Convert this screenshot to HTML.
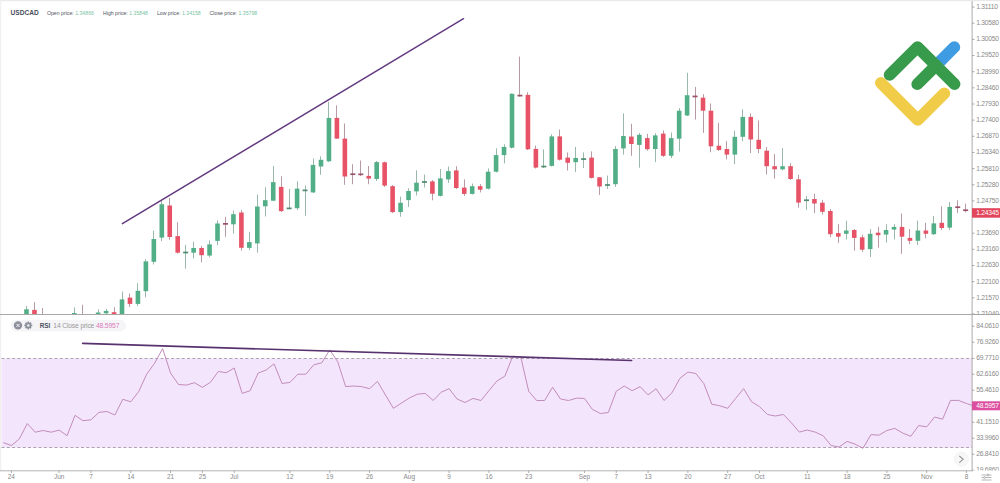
<!DOCTYPE html>
<html><head><meta charset="utf-8"><style>
html,body{margin:0;padding:0;background:#fff;width:1000px;height:483px;overflow:hidden}
svg{display:block;font-family:"Liberation Sans",sans-serif}
</style></head><body>
<svg width="1000" height="483" viewBox="0 0 1000 483">
<defs>
<clipPath id="cp"><rect x="1" y="1" width="971" height="313.4"/></clipPath>
<clipPath id="ca1"><rect x="972" y="0" width="28" height="314.4"/></clipPath>
<clipPath id="ca2"><rect x="972" y="314.9" width="28" height="155.6"/></clipPath>
<clipPath id="cr"><rect x="1" y="314.9" width="971" height="155.5"/></clipPath>
</defs>
<rect x="0" y="0" width="1000" height="483" fill="#fff"/>
<rect x="0" y="0" width="1000" height="1.2" fill="#e9e9e9"/>
<rect x="0" y="0" width="1.2" height="471" fill="#f0f0f0"/>
<!-- RSI band -->
<rect x="1.5" y="358.5" width="970.5" height="89" fill="#f3e5fc"/>
<g clip-path="url(#cp)">
<line x1="10.50" y1="315.00" x2="10.50" y2="322.00" stroke="#9ab8a9" stroke-width="1"/>
<line x1="18.50" y1="315.00" x2="18.50" y2="322.00" stroke="#b89aa4" stroke-width="1"/>
<line x1="26.50" y1="306.00" x2="26.50" y2="318.00" stroke="#9ab8a9" stroke-width="1"/>
<line x1="34.50" y1="302.10" x2="34.50" y2="318.00" stroke="#b89aa4" stroke-width="1"/>
<line x1="42.50" y1="308.00" x2="42.50" y2="320.00" stroke="#b89aa4" stroke-width="1"/>
<line x1="50.50" y1="315.00" x2="50.50" y2="322.00" stroke="#9ab8a9" stroke-width="1"/>
<line x1="58.50" y1="315.00" x2="58.50" y2="322.00" stroke="#b89aa4" stroke-width="1"/>
<line x1="66.50" y1="315.00" x2="66.50" y2="322.00" stroke="#9ab8a9" stroke-width="1"/>
<line x1="74.50" y1="307.30" x2="74.50" y2="318.00" stroke="#9ab8a9" stroke-width="1"/>
<line x1="82.50" y1="304.70" x2="82.50" y2="320.00" stroke="#b89aa4" stroke-width="1"/>
<line x1="90.50" y1="315.00" x2="90.50" y2="322.00" stroke="#9ab8a9" stroke-width="1"/>
<line x1="98.50" y1="309.30" x2="98.50" y2="317.00" stroke="#9ab8a9" stroke-width="1"/>
<line x1="106.50" y1="308.90" x2="106.50" y2="315.00" stroke="#9ab8a9" stroke-width="1"/>
<line x1="114.50" y1="307.20" x2="114.50" y2="316.00" stroke="#b89aa4" stroke-width="1"/>
<line x1="122.50" y1="291.50" x2="122.50" y2="318.00" stroke="#9ab8a9" stroke-width="1"/>
<line x1="129.50" y1="293.50" x2="129.50" y2="307.00" stroke="#b89aa4" stroke-width="1"/>
<line x1="137.50" y1="283.10" x2="137.50" y2="305.90" stroke="#9ab8a9" stroke-width="1"/>
<line x1="145.50" y1="259.30" x2="145.50" y2="297.40" stroke="#9ab8a9" stroke-width="1"/>
<line x1="153.50" y1="230.50" x2="153.50" y2="264.50" stroke="#9ab8a9" stroke-width="1"/>
<line x1="161.50" y1="200.70" x2="161.50" y2="241.10" stroke="#9ab8a9" stroke-width="1"/>
<line x1="169.50" y1="197.80" x2="169.50" y2="239.80" stroke="#b89aa4" stroke-width="1"/>
<line x1="177.50" y1="222.30" x2="177.50" y2="253.50" stroke="#b89aa4" stroke-width="1"/>
<line x1="185.50" y1="244.80" x2="185.50" y2="268.70" stroke="#9ab8a9" stroke-width="1"/>
<line x1="193.50" y1="241.70" x2="193.50" y2="258.30" stroke="#9ab8a9" stroke-width="1"/>
<line x1="201.50" y1="245.90" x2="201.50" y2="262.40" stroke="#b89aa4" stroke-width="1"/>
<line x1="209.50" y1="240.30" x2="209.50" y2="257.30" stroke="#9ab8a9" stroke-width="1"/>
<line x1="217.50" y1="220.40" x2="217.50" y2="245.20" stroke="#9ab8a9" stroke-width="1"/>
<line x1="225.50" y1="216.70" x2="225.50" y2="236.80" stroke="#b89aa4" stroke-width="1"/>
<line x1="233.50" y1="210.50" x2="233.50" y2="233.60" stroke="#9ab8a9" stroke-width="1"/>
<line x1="241.50" y1="210.00" x2="241.50" y2="250.60" stroke="#b89aa4" stroke-width="1"/>
<line x1="249.50" y1="231.80" x2="249.50" y2="250.00" stroke="#9ab8a9" stroke-width="1"/>
<line x1="257.50" y1="194.50" x2="257.50" y2="252.70" stroke="#9ab8a9" stroke-width="1"/>
<line x1="265.50" y1="187.30" x2="265.50" y2="216.50" stroke="#9ab8a9" stroke-width="1"/>
<line x1="273.50" y1="166.10" x2="273.50" y2="201.00" stroke="#9ab8a9" stroke-width="1"/>
<line x1="281.50" y1="176.20" x2="281.50" y2="212.00" stroke="#b89aa4" stroke-width="1"/>
<line x1="289.50" y1="188.90" x2="289.50" y2="209.00" stroke="#9ab8a9" stroke-width="1"/>
<line x1="297.50" y1="181.30" x2="297.50" y2="210.00" stroke="#9ab8a9" stroke-width="1"/>
<line x1="305.50" y1="185.60" x2="305.50" y2="215.80" stroke="#9ab8a9" stroke-width="1"/>
<line x1="313.50" y1="158.50" x2="313.50" y2="193.00" stroke="#9ab8a9" stroke-width="1"/>
<line x1="320.50" y1="156.40" x2="320.50" y2="174.80" stroke="#9ab8a9" stroke-width="1"/>
<line x1="328.50" y1="101.70" x2="328.50" y2="162.00" stroke="#9ab8a9" stroke-width="1"/>
<line x1="336.50" y1="105.30" x2="336.50" y2="139.00" stroke="#b89aa4" stroke-width="1"/>
<line x1="344.50" y1="123.50" x2="344.50" y2="184.80" stroke="#b89aa4" stroke-width="1"/>
<line x1="352.50" y1="164.20" x2="352.50" y2="184.20" stroke="#b89aa4" stroke-width="1"/>
<line x1="360.50" y1="160.50" x2="360.50" y2="176.00" stroke="#b89aa4" stroke-width="1"/>
<line x1="368.50" y1="166.00" x2="368.50" y2="184.20" stroke="#b89aa4" stroke-width="1"/>
<line x1="376.50" y1="161.00" x2="376.50" y2="181.00" stroke="#9ab8a9" stroke-width="1"/>
<line x1="384.50" y1="161.50" x2="384.50" y2="186.90" stroke="#b89aa4" stroke-width="1"/>
<line x1="392.50" y1="185.00" x2="392.50" y2="213.00" stroke="#b89aa4" stroke-width="1"/>
<line x1="400.50" y1="196.60" x2="400.50" y2="216.70" stroke="#9ab8a9" stroke-width="1"/>
<line x1="408.50" y1="188.30" x2="408.50" y2="206.90" stroke="#9ab8a9" stroke-width="1"/>
<line x1="416.50" y1="170.30" x2="416.50" y2="195.50" stroke="#9ab8a9" stroke-width="1"/>
<line x1="424.50" y1="174.50" x2="424.50" y2="187.50" stroke="#9ab8a9" stroke-width="1"/>
<line x1="432.50" y1="180.00" x2="432.50" y2="200.30" stroke="#b89aa4" stroke-width="1"/>
<line x1="440.50" y1="169.00" x2="440.50" y2="196.50" stroke="#9ab8a9" stroke-width="1"/>
<line x1="448.50" y1="166.50" x2="448.50" y2="183.00" stroke="#9ab8a9" stroke-width="1"/>
<line x1="456.50" y1="166.20" x2="456.50" y2="189.00" stroke="#b89aa4" stroke-width="1"/>
<line x1="464.50" y1="179.40" x2="464.50" y2="195.90" stroke="#b89aa4" stroke-width="1"/>
<line x1="472.50" y1="183.50" x2="472.50" y2="194.50" stroke="#9ab8a9" stroke-width="1"/>
<line x1="480.50" y1="184.10" x2="480.50" y2="192.40" stroke="#b89aa4" stroke-width="1"/>
<line x1="488.50" y1="168.40" x2="488.50" y2="189.50" stroke="#9ab8a9" stroke-width="1"/>
<line x1="496.50" y1="148.30" x2="496.50" y2="172.50" stroke="#9ab8a9" stroke-width="1"/>
<line x1="504.50" y1="144.20" x2="504.50" y2="163.40" stroke="#9ab8a9" stroke-width="1"/>
<line x1="511.50" y1="93.40" x2="511.50" y2="148.50" stroke="#9ab8a9" stroke-width="1"/>
<line x1="519.50" y1="56.60" x2="519.50" y2="96.50" stroke="#b89aa4" stroke-width="1"/>
<line x1="527.50" y1="92.20" x2="527.50" y2="150.00" stroke="#b89aa4" stroke-width="1"/>
<line x1="535.50" y1="145.60" x2="535.50" y2="168.50" stroke="#b89aa4" stroke-width="1"/>
<line x1="543.50" y1="149.30" x2="543.50" y2="168.00" stroke="#9ab8a9" stroke-width="1"/>
<line x1="551.50" y1="134.30" x2="551.50" y2="166.50" stroke="#9ab8a9" stroke-width="1"/>
<line x1="559.50" y1="129.50" x2="559.50" y2="160.50" stroke="#b89aa4" stroke-width="1"/>
<line x1="567.50" y1="152.40" x2="567.50" y2="170.50" stroke="#b89aa4" stroke-width="1"/>
<line x1="575.50" y1="146.90" x2="575.50" y2="172.10" stroke="#9ab8a9" stroke-width="1"/>
<line x1="583.50" y1="152.40" x2="583.50" y2="168.00" stroke="#9ab8a9" stroke-width="1"/>
<line x1="591.50" y1="151.40" x2="591.50" y2="178.50" stroke="#b89aa4" stroke-width="1"/>
<line x1="599.50" y1="177.00" x2="599.50" y2="194.90" stroke="#b89aa4" stroke-width="1"/>
<line x1="607.50" y1="175.60" x2="607.50" y2="188.90" stroke="#9ab8a9" stroke-width="1"/>
<line x1="615.50" y1="146.10" x2="615.50" y2="186.90" stroke="#9ab8a9" stroke-width="1"/>
<line x1="623.50" y1="113.40" x2="623.50" y2="154.60" stroke="#9ab8a9" stroke-width="1"/>
<line x1="631.50" y1="123.80" x2="631.50" y2="155.80" stroke="#b89aa4" stroke-width="1"/>
<line x1="639.50" y1="133.00" x2="639.50" y2="167.70" stroke="#9ab8a9" stroke-width="1"/>
<line x1="647.50" y1="133.90" x2="647.50" y2="150.70" stroke="#b89aa4" stroke-width="1"/>
<line x1="655.50" y1="133.30" x2="655.50" y2="162.10" stroke="#9ab8a9" stroke-width="1"/>
<line x1="663.50" y1="130.40" x2="663.50" y2="156.90" stroke="#b89aa4" stroke-width="1"/>
<line x1="671.50" y1="132.50" x2="671.50" y2="158.00" stroke="#9ab8a9" stroke-width="1"/>
<line x1="679.50" y1="108.00" x2="679.50" y2="151.60" stroke="#9ab8a9" stroke-width="1"/>
<line x1="687.50" y1="72.80" x2="687.50" y2="116.00" stroke="#9ab8a9" stroke-width="1"/>
<line x1="695.50" y1="86.90" x2="695.50" y2="119.60" stroke="#b89aa4" stroke-width="1"/>
<line x1="703.50" y1="94.20" x2="703.50" y2="132.90" stroke="#b89aa4" stroke-width="1"/>
<line x1="710.50" y1="103.50" x2="710.50" y2="152.20" stroke="#b89aa4" stroke-width="1"/>
<line x1="718.50" y1="123.10" x2="718.50" y2="151.00" stroke="#b89aa4" stroke-width="1"/>
<line x1="726.50" y1="140.90" x2="726.50" y2="159.40" stroke="#b89aa4" stroke-width="1"/>
<line x1="734.50" y1="130.80" x2="734.50" y2="164.20" stroke="#9ab8a9" stroke-width="1"/>
<line x1="742.50" y1="109.30" x2="742.50" y2="141.30" stroke="#9ab8a9" stroke-width="1"/>
<line x1="750.50" y1="113.40" x2="750.50" y2="153.00" stroke="#b89aa4" stroke-width="1"/>
<line x1="758.50" y1="120.50" x2="758.50" y2="153.20" stroke="#b89aa4" stroke-width="1"/>
<line x1="766.50" y1="147.00" x2="766.50" y2="174.50" stroke="#b89aa4" stroke-width="1"/>
<line x1="774.50" y1="153.90" x2="774.50" y2="178.70" stroke="#b89aa4" stroke-width="1"/>
<line x1="782.50" y1="148.10" x2="782.50" y2="170.40" stroke="#9ab8a9" stroke-width="1"/>
<line x1="790.50" y1="163.10" x2="790.50" y2="180.00" stroke="#b89aa4" stroke-width="1"/>
<line x1="798.50" y1="174.80" x2="798.50" y2="207.50" stroke="#b89aa4" stroke-width="1"/>
<line x1="806.50" y1="195.90" x2="806.50" y2="209.80" stroke="#9ab8a9" stroke-width="1"/>
<line x1="814.50" y1="193.80" x2="814.50" y2="213.10" stroke="#b89aa4" stroke-width="1"/>
<line x1="822.50" y1="200.00" x2="822.50" y2="214.50" stroke="#b89aa4" stroke-width="1"/>
<line x1="830.50" y1="209.00" x2="830.50" y2="237.30" stroke="#b89aa4" stroke-width="1"/>
<line x1="838.50" y1="224.20" x2="838.50" y2="242.90" stroke="#b89aa4" stroke-width="1"/>
<line x1="846.50" y1="220.70" x2="846.50" y2="239.40" stroke="#9ab8a9" stroke-width="1"/>
<line x1="854.50" y1="229.00" x2="854.50" y2="250.70" stroke="#b89aa4" stroke-width="1"/>
<line x1="862.50" y1="234.60" x2="862.50" y2="251.80" stroke="#b89aa4" stroke-width="1"/>
<line x1="870.50" y1="229.00" x2="870.50" y2="257.00" stroke="#9ab8a9" stroke-width="1"/>
<line x1="878.50" y1="226.90" x2="878.50" y2="247.60" stroke="#b89aa4" stroke-width="1"/>
<line x1="886.50" y1="224.20" x2="886.50" y2="242.50" stroke="#9ab8a9" stroke-width="1"/>
<line x1="894.50" y1="224.20" x2="894.50" y2="239.40" stroke="#9ab8a9" stroke-width="1"/>
<line x1="901.50" y1="213.50" x2="901.50" y2="253.90" stroke="#b89aa4" stroke-width="1"/>
<line x1="909.50" y1="229.00" x2="909.50" y2="244.10" stroke="#b89aa4" stroke-width="1"/>
<line x1="917.50" y1="220.70" x2="917.50" y2="245.00" stroke="#9ab8a9" stroke-width="1"/>
<line x1="925.50" y1="222.80" x2="925.50" y2="238.30" stroke="#b89aa4" stroke-width="1"/>
<line x1="933.50" y1="216.00" x2="933.50" y2="235.00" stroke="#9ab8a9" stroke-width="1"/>
<line x1="941.50" y1="206.20" x2="941.50" y2="230.00" stroke="#b89aa4" stroke-width="1"/>
<line x1="949.50" y1="202.10" x2="949.50" y2="230.00" stroke="#9ab8a9" stroke-width="1"/>
<line x1="957.50" y1="200.20" x2="957.50" y2="213.00" stroke="#b89aa4" stroke-width="1"/>
<line x1="965.50" y1="203.70" x2="965.50" y2="212.40" stroke="#b89aa4" stroke-width="1"/>
<rect x="8.28" y="316.00" width="4.6" height="4.00" fill="#52ae86"/>
<rect x="16.24" y="316.00" width="4.6" height="4.00" fill="#e75266"/>
<rect x="24.20" y="309.30" width="4.6" height="6.70" fill="#52ae86"/>
<rect x="32.16" y="309.90" width="4.6" height="6.10" fill="#e75266"/>
<rect x="40.12" y="314.00" width="4.6" height="4.00" fill="#e75266"/>
<rect x="48.08" y="316.00" width="4.6" height="4.00" fill="#52ae86"/>
<rect x="56.03" y="316.00" width="4.6" height="4.00" fill="#e75266"/>
<rect x="63.99" y="316.00" width="4.6" height="4.00" fill="#52ae86"/>
<rect x="71.95" y="313.00" width="4.6" height="3.00" fill="#52ae86"/>
<rect x="79.91" y="314.50" width="4.6" height="3.50" fill="#e75266"/>
<rect x="87.87" y="316.00" width="4.6" height="4.00" fill="#52ae86"/>
<rect x="95.83" y="312.50" width="4.6" height="2.50" fill="#52ae86"/>
<rect x="103.79" y="310.90" width="4.6" height="2.40" fill="#52ae86"/>
<rect x="111.75" y="312.20" width="4.6" height="2.30" fill="#e75266"/>
<rect x="119.71" y="299.40" width="4.6" height="16.60" fill="#52ae86"/>
<rect x="127.67" y="297.60" width="4.6" height="6.30" fill="#e75266"/>
<rect x="135.62" y="290.80" width="4.6" height="13.10" fill="#52ae86"/>
<rect x="143.58" y="261.40" width="4.6" height="29.80" fill="#52ae86"/>
<rect x="151.54" y="239.00" width="4.6" height="22.80" fill="#52ae86"/>
<rect x="159.50" y="204.20" width="4.6" height="33.40" fill="#52ae86"/>
<rect x="167.46" y="205.50" width="4.6" height="31.50" fill="#e75266"/>
<rect x="175.42" y="236.10" width="4.6" height="16.60" fill="#e75266"/>
<rect x="183.18" y="251.65" width="5" height="1.7" fill="#4f8a70"/>
<rect x="191.34" y="248.00" width="4.6" height="4.70" fill="#52ae86"/>
<rect x="199.30" y="248.00" width="4.6" height="7.20" fill="#e75266"/>
<rect x="207.25" y="244.40" width="4.6" height="11.20" fill="#52ae86"/>
<rect x="215.21" y="223.50" width="4.6" height="17.40" fill="#52ae86"/>
<rect x="222.97" y="223.00" width="5" height="1.7" fill="#9a5266"/>
<rect x="231.13" y="214.20" width="4.6" height="10.10" fill="#52ae86"/>
<rect x="239.09" y="212.50" width="4.6" height="35.30" fill="#e75266"/>
<rect x="247.05" y="242.10" width="4.6" height="5.80" fill="#52ae86"/>
<rect x="255.01" y="206.50" width="4.6" height="36.90" fill="#52ae86"/>
<rect x="262.97" y="200.20" width="4.6" height="6.10" fill="#52ae86"/>
<rect x="270.93" y="182.10" width="4.6" height="18.60" fill="#52ae86"/>
<rect x="278.89" y="186.90" width="4.6" height="24.20" fill="#e75266"/>
<rect x="286.64" y="207.55" width="5" height="1.7" fill="#4f8a70"/>
<rect x="294.80" y="188.60" width="4.6" height="19.60" fill="#52ae86"/>
<rect x="302.56" y="189.55" width="5" height="1.7" fill="#4f8a70"/>
<rect x="310.72" y="164.90" width="4.6" height="27.50" fill="#52ae86"/>
<rect x="318.68" y="159.80" width="4.6" height="6.70" fill="#52ae86"/>
<rect x="326.64" y="117.90" width="4.6" height="43.40" fill="#52ae86"/>
<rect x="334.60" y="117.90" width="4.6" height="20.70" fill="#e75266"/>
<rect x="342.56" y="138.60" width="4.6" height="37.90" fill="#e75266"/>
<rect x="350.32" y="173.35" width="5" height="1.7" fill="#9a5266"/>
<rect x="358.28" y="173.50" width="5" height="1.7" fill="#9a5266"/>
<rect x="366.43" y="175.90" width="4.6" height="2.70" fill="#e75266"/>
<rect x="374.39" y="162.10" width="4.6" height="16.90" fill="#52ae86"/>
<rect x="382.35" y="162.30" width="4.6" height="23.30" fill="#e75266"/>
<rect x="390.31" y="186.20" width="4.6" height="25.90" fill="#e75266"/>
<rect x="398.27" y="202.80" width="4.6" height="9.30" fill="#52ae86"/>
<rect x="406.23" y="191.00" width="4.6" height="9.10" fill="#52ae86"/>
<rect x="414.19" y="182.70" width="4.6" height="8.70" fill="#52ae86"/>
<rect x="421.95" y="181.15" width="5" height="1.7" fill="#4f8a70"/>
<rect x="430.11" y="181.40" width="4.6" height="12.30" fill="#e75266"/>
<rect x="438.07" y="178.40" width="4.6" height="17.50" fill="#52ae86"/>
<rect x="446.02" y="171.10" width="4.6" height="8.30" fill="#52ae86"/>
<rect x="453.98" y="170.40" width="4.6" height="17.60" fill="#e75266"/>
<rect x="461.94" y="187.60" width="4.6" height="6.30" fill="#e75266"/>
<rect x="469.90" y="186.20" width="4.6" height="7.70" fill="#52ae86"/>
<rect x="477.86" y="186.20" width="4.6" height="3.50" fill="#e75266"/>
<rect x="485.82" y="171.70" width="4.6" height="17.00" fill="#52ae86"/>
<rect x="493.78" y="155.10" width="4.6" height="16.60" fill="#52ae86"/>
<rect x="501.74" y="146.90" width="4.6" height="8.20" fill="#52ae86"/>
<rect x="509.70" y="93.80" width="4.6" height="53.90" fill="#52ae86"/>
<rect x="517.46" y="94.75" width="5" height="1.7" fill="#9a5266"/>
<rect x="525.62" y="94.90" width="4.6" height="54.40" fill="#e75266"/>
<rect x="533.57" y="148.90" width="4.6" height="18.70" fill="#e75266"/>
<rect x="541.33" y="165.70" width="5" height="1.7" fill="#4f8a70"/>
<rect x="549.49" y="136.40" width="4.6" height="29.50" fill="#52ae86"/>
<rect x="557.45" y="136.40" width="4.6" height="23.30" fill="#e75266"/>
<rect x="565.41" y="157.60" width="4.6" height="5.20" fill="#e75266"/>
<rect x="573.37" y="158.00" width="4.6" height="4.20" fill="#52ae86"/>
<rect x="581.13" y="158.20" width="5" height="1.7" fill="#4f8a70"/>
<rect x="589.29" y="157.60" width="4.6" height="20.30" fill="#e75266"/>
<rect x="597.25" y="177.30" width="4.6" height="9.20" fill="#e75266"/>
<rect x="605.00" y="184.15" width="5" height="1.7" fill="#4f8a70"/>
<rect x="613.16" y="149.00" width="4.6" height="35.20" fill="#52ae86"/>
<rect x="621.12" y="136.00" width="4.6" height="12.40" fill="#52ae86"/>
<rect x="629.08" y="136.60" width="4.6" height="7.40" fill="#e75266"/>
<rect x="637.04" y="134.80" width="4.6" height="10.10" fill="#52ae86"/>
<rect x="645.00" y="138.10" width="4.6" height="11.10" fill="#e75266"/>
<rect x="652.96" y="135.40" width="4.6" height="13.60" fill="#52ae86"/>
<rect x="660.92" y="133.60" width="4.6" height="22.20" fill="#e75266"/>
<rect x="668.88" y="138.10" width="4.6" height="17.70" fill="#52ae86"/>
<rect x="676.84" y="110.70" width="4.6" height="28.00" fill="#52ae86"/>
<rect x="684.80" y="95.20" width="4.6" height="20.30" fill="#52ae86"/>
<rect x="692.55" y="95.60" width="5" height="1.7" fill="#9a5266"/>
<rect x="700.71" y="97.70" width="4.6" height="13.00" fill="#e75266"/>
<rect x="708.67" y="110.70" width="4.6" height="35.60" fill="#e75266"/>
<rect x="716.63" y="145.70" width="4.6" height="4.30" fill="#e75266"/>
<rect x="724.59" y="149.00" width="4.6" height="5.60" fill="#e75266"/>
<rect x="732.55" y="136.80" width="4.6" height="17.80" fill="#52ae86"/>
<rect x="740.51" y="116.90" width="4.6" height="19.90" fill="#52ae86"/>
<rect x="748.47" y="116.90" width="4.6" height="22.60" fill="#e75266"/>
<rect x="756.43" y="139.80" width="4.6" height="9.20" fill="#e75266"/>
<rect x="764.39" y="150.70" width="4.6" height="15.50" fill="#e75266"/>
<rect x="772.34" y="166.20" width="4.6" height="3.10" fill="#e75266"/>
<rect x="780.30" y="166.20" width="4.6" height="3.10" fill="#52ae86"/>
<rect x="788.26" y="166.20" width="4.6" height="12.80" fill="#e75266"/>
<rect x="796.22" y="179.30" width="4.6" height="23.30" fill="#e75266"/>
<rect x="803.98" y="199.40" width="5" height="1.7" fill="#4f8a70"/>
<rect x="812.14" y="199.00" width="4.6" height="4.50" fill="#e75266"/>
<rect x="820.10" y="202.70" width="4.6" height="9.10" fill="#e75266"/>
<rect x="828.06" y="211.00" width="4.6" height="23.20" fill="#e75266"/>
<rect x="836.02" y="233.10" width="4.6" height="3.60" fill="#e75266"/>
<rect x="843.98" y="230.50" width="4.6" height="3.30" fill="#52ae86"/>
<rect x="851.93" y="230.00" width="4.6" height="7.90" fill="#e75266"/>
<rect x="859.89" y="237.30" width="4.6" height="12.40" fill="#e75266"/>
<rect x="867.85" y="233.80" width="4.6" height="15.30" fill="#52ae86"/>
<rect x="875.81" y="232.70" width="4.6" height="2.50" fill="#e75266"/>
<rect x="883.77" y="230.00" width="4.6" height="4.60" fill="#52ae86"/>
<rect x="891.73" y="226.90" width="4.6" height="2.70" fill="#52ae86"/>
<rect x="899.69" y="226.90" width="4.6" height="9.80" fill="#e75266"/>
<rect x="907.65" y="237.90" width="4.6" height="2.90" fill="#e75266"/>
<rect x="915.61" y="230.50" width="4.6" height="10.30" fill="#52ae86"/>
<rect x="923.57" y="230.50" width="4.6" height="3.30" fill="#e75266"/>
<rect x="931.52" y="223.40" width="4.6" height="10.80" fill="#52ae86"/>
<rect x="939.48" y="222.80" width="4.6" height="5.20" fill="#e75266"/>
<rect x="947.44" y="206.90" width="4.6" height="20.70" fill="#52ae86"/>
<rect x="955.20" y="206.35" width="5" height="1.7" fill="#9a5266"/>
<rect x="963.16" y="209.35" width="5" height="1.7" fill="#9a5266"/>
</g>
<!-- trendline main -->
<line x1="122.4" y1="223.6" x2="463.5" y2="18.7" stroke="#633a80" stroke-width="1.5" stroke-linecap="round"/>
<!-- divider -->
<rect x="0" y="314" width="1000" height="1" fill="#a9a9a9"/>
<g clip-path="url(#cr)">
<line x1="1.5" y1="358.5" x2="972" y2="358.5" stroke="#a39aa8" stroke-width="0.9" stroke-dasharray="3 2.3"/>
<line x1="1.5" y1="447.5" x2="972" y2="447.5" stroke="#a39aa8" stroke-width="0.9" stroke-dasharray="3 2.3"/>
<path d="M3.40,442.60 L11.38,445.50 L19.34,438.90 L27.30,423.60 L35.26,432.20 L43.22,430.50 L51.17,432.20 L59.13,430.10 L67.09,435.70 L75.05,415.30 L83.01,420.70 L90.97,419.80 L98.93,412.40 L106.89,411.50 L114.85,415.00 L122.81,399.30 L130.77,401.80 L138.72,391.50 L146.68,374.20 L154.64,363.20 L162.60,348.60 L170.56,373.10 L178.52,384.50 L186.48,385.10 L194.44,382.70 L202.40,387.30 L210.36,382.40 L218.31,371.50 L226.27,372.70 L234.23,368.00 L242.19,393.40 L250.15,390.70 L258.11,373.10 L266.07,370.00 L274.03,363.80 L281.99,383.50 L289.94,382.40 L297.90,374.20 L305.86,374.20 L313.82,364.80 L321.78,362.80 L329.74,349.90 L337.70,361.70 L345.66,386.60 L353.62,386.00 L361.58,386.60 L369.53,388.70 L377.49,381.40 L385.45,395.00 L393.41,408.30 L401.37,403.10 L409.33,398.00 L417.29,394.20 L425.25,393.40 L433.21,400.50 L441.17,392.20 L449.12,388.70 L457.08,399.00 L465.04,402.50 L473.00,398.40 L480.96,400.50 L488.92,390.70 L496.88,381.00 L504.84,376.20 L512.80,356.10 L520.76,357.00 L528.71,391.30 L536.67,400.50 L544.63,400.50 L552.59,387.20 L560.55,399.00 L568.51,400.50 L576.47,398.20 L584.43,398.40 L592.39,409.40 L600.35,413.50 L608.30,412.50 L616.26,391.30 L624.22,386.00 L632.18,390.70 L640.14,386.60 L648.10,394.90 L656.06,388.70 L664.02,400.50 L671.98,392.80 L679.94,378.30 L687.89,372.10 L695.85,373.50 L703.81,383.50 L711.77,404.20 L719.73,405.80 L727.69,408.30 L735.65,398.40 L743.61,388.70 L751.57,401.70 L759.53,406.70 L767.49,414.50 L775.44,416.00 L783.40,414.50 L791.36,422.80 L799.32,432.10 L807.28,430.00 L815.24,432.10 L823.20,435.80 L831.16,445.60 L839.12,447.00 L847.07,441.40 L855.03,444.10 L862.99,448.30 L870.95,434.60 L878.91,435.20 L886.87,430.50 L894.83,428.40 L902.79,433.10 L910.75,436.30 L918.71,425.50 L926.66,426.90 L934.62,417.00 L942.58,419.20 L950.54,400.40 L958.50,400.40 L966.46,403.50 L972.00,405.30" fill="none" stroke="#c28cba" stroke-width="1" stroke-linejoin="round"/>
</g>
<line x1="82.7" y1="343.4" x2="631.6" y2="360.5" stroke="#58326e" stroke-width="1.7" stroke-linecap="round"/>
<!-- axes -->
<rect x="971.6" y="1" width="1" height="470" fill="#aaa"/>
<rect x="0" y="470.3" width="973" height="1" fill="#b3b3b3"/>
<g font-size="6.7" fill="#8a8a8a" letter-spacing="-0.22">
<g clip-path="url(#ca1)"><line x1="972" y1="7.10" x2="974.5" y2="7.10" stroke="#999" stroke-width="0.8"/>
<text x="976.2" y="9.00">1.31110</text>
<line x1="972" y1="23.25" x2="974.5" y2="23.25" stroke="#999" stroke-width="0.8"/>
<text x="976.2" y="25.15">1.30580</text>
<line x1="972" y1="39.40" x2="974.5" y2="39.40" stroke="#999" stroke-width="0.8"/>
<text x="976.2" y="41.30">1.30050</text>
<line x1="972" y1="55.55" x2="974.5" y2="55.55" stroke="#999" stroke-width="0.8"/>
<text x="976.2" y="57.45">1.29520</text>
<line x1="972" y1="71.70" x2="974.5" y2="71.70" stroke="#999" stroke-width="0.8"/>
<text x="976.2" y="73.60">1.28990</text>
<line x1="972" y1="87.85" x2="974.5" y2="87.85" stroke="#999" stroke-width="0.8"/>
<text x="976.2" y="89.75">1.28460</text>
<line x1="972" y1="104.00" x2="974.5" y2="104.00" stroke="#999" stroke-width="0.8"/>
<text x="976.2" y="105.90">1.27930</text>
<line x1="972" y1="120.15" x2="974.5" y2="120.15" stroke="#999" stroke-width="0.8"/>
<text x="976.2" y="122.05">1.27400</text>
<line x1="972" y1="136.30" x2="974.5" y2="136.30" stroke="#999" stroke-width="0.8"/>
<text x="976.2" y="138.20">1.26870</text>
<line x1="972" y1="152.45" x2="974.5" y2="152.45" stroke="#999" stroke-width="0.8"/>
<text x="976.2" y="154.35">1.26340</text>
<line x1="972" y1="168.60" x2="974.5" y2="168.60" stroke="#999" stroke-width="0.8"/>
<text x="976.2" y="170.50">1.25810</text>
<line x1="972" y1="184.75" x2="974.5" y2="184.75" stroke="#999" stroke-width="0.8"/>
<text x="976.2" y="186.65">1.25280</text>
<line x1="972" y1="200.90" x2="974.5" y2="200.90" stroke="#999" stroke-width="0.8"/>
<text x="976.2" y="202.80">1.24750</text>
<line x1="972" y1="233.20" x2="974.5" y2="233.20" stroke="#999" stroke-width="0.8"/>
<text x="976.2" y="235.10">1.23690</text>
<line x1="972" y1="249.35" x2="974.5" y2="249.35" stroke="#999" stroke-width="0.8"/>
<text x="976.2" y="251.25">1.23160</text>
<line x1="972" y1="265.50" x2="974.5" y2="265.50" stroke="#999" stroke-width="0.8"/>
<text x="976.2" y="267.40">1.22630</text>
<line x1="972" y1="281.65" x2="974.5" y2="281.65" stroke="#999" stroke-width="0.8"/>
<text x="976.2" y="283.55">1.22100</text>
<line x1="972" y1="297.80" x2="974.5" y2="297.80" stroke="#999" stroke-width="0.8"/>
<text x="976.2" y="299.70">1.21570</text>
<line x1="972" y1="313.95" x2="974.5" y2="313.95" stroke="#999" stroke-width="0.8"/>
<text x="976.2" y="315.85">1.21040</text></g>
<g clip-path="url(#ca2)"><line x1="972" y1="326.30" x2="974.5" y2="326.30" stroke="#999" stroke-width="0.8"/>
<text x="976.2" y="328.20">84.0610</text>
<line x1="972" y1="342.30" x2="974.5" y2="342.30" stroke="#999" stroke-width="0.8"/>
<text x="976.2" y="344.20">76.9260</text>
<line x1="972" y1="358.30" x2="974.5" y2="358.30" stroke="#999" stroke-width="0.8"/>
<text x="976.2" y="360.20">69.7710</text>
<line x1="972" y1="374.30" x2="974.5" y2="374.30" stroke="#999" stroke-width="0.8"/>
<text x="976.2" y="376.20">62.6160</text>
<line x1="972" y1="390.30" x2="974.5" y2="390.30" stroke="#999" stroke-width="0.8"/>
<text x="976.2" y="392.20">55.4610</text>
<line x1="972" y1="422.30" x2="974.5" y2="422.30" stroke="#999" stroke-width="0.8"/>
<text x="976.2" y="424.20">41.1510</text>
<line x1="972" y1="438.30" x2="974.5" y2="438.30" stroke="#999" stroke-width="0.8"/>
<text x="976.2" y="440.20">33.9960</text>
<line x1="972" y1="454.30" x2="974.5" y2="454.30" stroke="#999" stroke-width="0.8"/>
<text x="976.2" y="456.20">26.8410</text>
<line x1="972" y1="470.30" x2="974.5" y2="470.30" stroke="#999" stroke-width="0.8"/>
<text x="976.2" y="472.20">19.6860</text></g>
</g>
<g font-size="6.5" fill="#8a8a8a">
<line x1="11.38" y1="470.7" x2="11.38" y2="473" stroke="#999" stroke-width="0.8"/>
<text x="11.38" y="478.6" text-anchor="middle">24</text>
<line x1="59.13" y1="470.7" x2="59.13" y2="473" stroke="#999" stroke-width="0.8"/>
<text x="59.13" y="478.6" text-anchor="middle">Jun</text>
<line x1="90.97" y1="470.7" x2="90.97" y2="473" stroke="#999" stroke-width="0.8"/>
<text x="90.97" y="478.6" text-anchor="middle">7</text>
<line x1="130.77" y1="470.7" x2="130.77" y2="473" stroke="#999" stroke-width="0.8"/>
<text x="130.77" y="478.6" text-anchor="middle">14</text>
<line x1="170.56" y1="470.7" x2="170.56" y2="473" stroke="#999" stroke-width="0.8"/>
<text x="170.56" y="478.6" text-anchor="middle">21</text>
<line x1="202.40" y1="470.7" x2="202.40" y2="473" stroke="#999" stroke-width="0.8"/>
<text x="202.40" y="478.6" text-anchor="middle">25</text>
<line x1="234.23" y1="470.7" x2="234.23" y2="473" stroke="#999" stroke-width="0.8"/>
<text x="234.23" y="478.6" text-anchor="middle">Jul</text>
<line x1="289.94" y1="470.7" x2="289.94" y2="473" stroke="#999" stroke-width="0.8"/>
<text x="289.94" y="478.6" text-anchor="middle">12</text>
<line x1="329.74" y1="470.7" x2="329.74" y2="473" stroke="#999" stroke-width="0.8"/>
<text x="329.74" y="478.6" text-anchor="middle">19</text>
<line x1="369.53" y1="470.7" x2="369.53" y2="473" stroke="#999" stroke-width="0.8"/>
<text x="369.53" y="478.6" text-anchor="middle">26</text>
<line x1="409.33" y1="470.7" x2="409.33" y2="473" stroke="#999" stroke-width="0.8"/>
<text x="409.33" y="478.6" text-anchor="middle">Aug</text>
<line x1="449.12" y1="470.7" x2="449.12" y2="473" stroke="#999" stroke-width="0.8"/>
<text x="449.12" y="478.6" text-anchor="middle">9</text>
<line x1="488.92" y1="470.7" x2="488.92" y2="473" stroke="#999" stroke-width="0.8"/>
<text x="488.92" y="478.6" text-anchor="middle">16</text>
<line x1="528.71" y1="470.7" x2="528.71" y2="473" stroke="#999" stroke-width="0.8"/>
<text x="528.71" y="478.6" text-anchor="middle">23</text>
<line x1="584.43" y1="470.7" x2="584.43" y2="473" stroke="#999" stroke-width="0.8"/>
<text x="584.43" y="478.6" text-anchor="middle">Sep</text>
<line x1="616.26" y1="470.7" x2="616.26" y2="473" stroke="#999" stroke-width="0.8"/>
<text x="616.26" y="478.6" text-anchor="middle">7</text>
<line x1="648.10" y1="470.7" x2="648.10" y2="473" stroke="#999" stroke-width="0.8"/>
<text x="648.10" y="478.6" text-anchor="middle">13</text>
<line x1="687.89" y1="470.7" x2="687.89" y2="473" stroke="#999" stroke-width="0.8"/>
<text x="687.89" y="478.6" text-anchor="middle">20</text>
<line x1="727.69" y1="470.7" x2="727.69" y2="473" stroke="#999" stroke-width="0.8"/>
<text x="727.69" y="478.6" text-anchor="middle">27</text>
<line x1="759.53" y1="470.7" x2="759.53" y2="473" stroke="#999" stroke-width="0.8"/>
<text x="759.53" y="478.6" text-anchor="middle">Oct</text>
<line x1="807.28" y1="470.7" x2="807.28" y2="473" stroke="#999" stroke-width="0.8"/>
<text x="807.28" y="478.6" text-anchor="middle">11</text>
<line x1="847.07" y1="470.7" x2="847.07" y2="473" stroke="#999" stroke-width="0.8"/>
<text x="847.07" y="478.6" text-anchor="middle">18</text>
<line x1="886.87" y1="470.7" x2="886.87" y2="473" stroke="#999" stroke-width="0.8"/>
<text x="886.87" y="478.6" text-anchor="middle">25</text>
<line x1="926.66" y1="470.7" x2="926.66" y2="473" stroke="#999" stroke-width="0.8"/>
<text x="926.66" y="478.6" text-anchor="middle">Nov</text>
<line x1="966.46" y1="470.7" x2="966.46" y2="473" stroke="#999" stroke-width="0.8"/>
<text x="966.46" y="478.6" text-anchor="middle">8</text>
</g>
<!-- price label -->
<rect x="972" y="208.2" width="28" height="9.5" fill="#e2455c"/>
<text x="976.2" y="215.3" font-size="6.7" letter-spacing="-0.22" fill="#fff">1.24345</text>
<rect x="972" y="401.3" width="28" height="9" fill="#dc4fa0"/>
<text x="976.2" y="408.1" font-size="6.7" letter-spacing="-0.22" fill="#fff">48.5957</text>
<!-- header -->
<text x="10.5" y="15.4" font-size="6.6" font-weight="bold" fill="#4a4f5c">USDCAD</text>
<g font-size="5.2">
<text x="46.9" y="15.2" fill="#50545e">Open price: <tspan fill="#79c3a3">1.34866</tspan></text>
<text x="103" y="15.2" fill="#50545e">High price: <tspan fill="#79c3a3">1.35848</tspan></text>
<text x="156.9" y="15.2" fill="#50545e">Low price: <tspan fill="#79c3a3">1.34158</tspan></text>
<text x="209.6" y="15.2" fill="#50545e">Close price: <tspan fill="#79c3a3">1.35798</tspan></text>
</g>
<!-- RSI header pill -->
<rect x="10.5" y="319.8" width="115.5" height="11.7" rx="5.8" fill="#f5f5f8"/>
<circle cx="18" cy="325.4" r="4.2" fill="#8d909b"/>
<path d="M16.4,323.8 L19.6,327 M19.6,323.8 L16.4,327" stroke="#fff" stroke-width="0.9"/>
<g transform="translate(28.3,325.4)">
<circle r="2.9" fill="#8d909b"/>
<path d="M0,-4 L0,4 M-4,0 L4,0 M-2.8,-2.8 L2.8,2.8 M-2.8,2.8 L2.8,-2.8" stroke="#8d909b" stroke-width="1.6"/>
<circle r="1.2" fill="#f3f3f6"/>
</g>
<text x="39.7" y="327.6" font-size="6.4" font-weight="bold" fill="#4f5360">RSI</text>
<text x="53.3" y="327.8" font-size="6.8" letter-spacing="-0.18" fill="#9a9a9a">14 Close price <tspan fill="#db7cb8">48.5957</tspan></text>
<!-- right bottom icons -->
<circle cx="961.4" cy="459.1" r="7" fill="#f7f7f7" stroke="#ececec" stroke-width="0.6"/>
<path d="M959.3,455.9 L963.1,459.3 L959.3,462.7" fill="none" stroke="#8f8f8f" stroke-width="1.1"/>
<g stroke="#9a9a9a" stroke-width="0.7" fill="none">
<line x1="981.5" y1="475" x2="991.5" y2="475"/>
<line x1="981.5" y1="477.5" x2="991.5" y2="477.5"/>
<line x1="981.5" y1="480" x2="991.5" y2="480"/>
<circle cx="988" cy="475" r="0.9" fill="#fff"/>
<circle cx="984.5" cy="477.5" r="0.9" fill="#fff"/>
</g>
<!-- logo -->
<g fill="none" stroke-linecap="round" stroke-linejoin="round" stroke-width="11.8">
<path d="M880.9,82.9 L917.8,119.8 L944.3,93.3" stroke="#f1cc48"/>
<path d="M934,67.5 L954.3,47.2" stroke="#3f9ce3"/>
<path d="M889.65,74.95 L917.55,47.05 L954.55,84.05" stroke="#389a4b"/>
<path d="M917.3,84.2 L936,65.5" stroke="#389a4b"/>
</g>
</svg>
</body></html>
